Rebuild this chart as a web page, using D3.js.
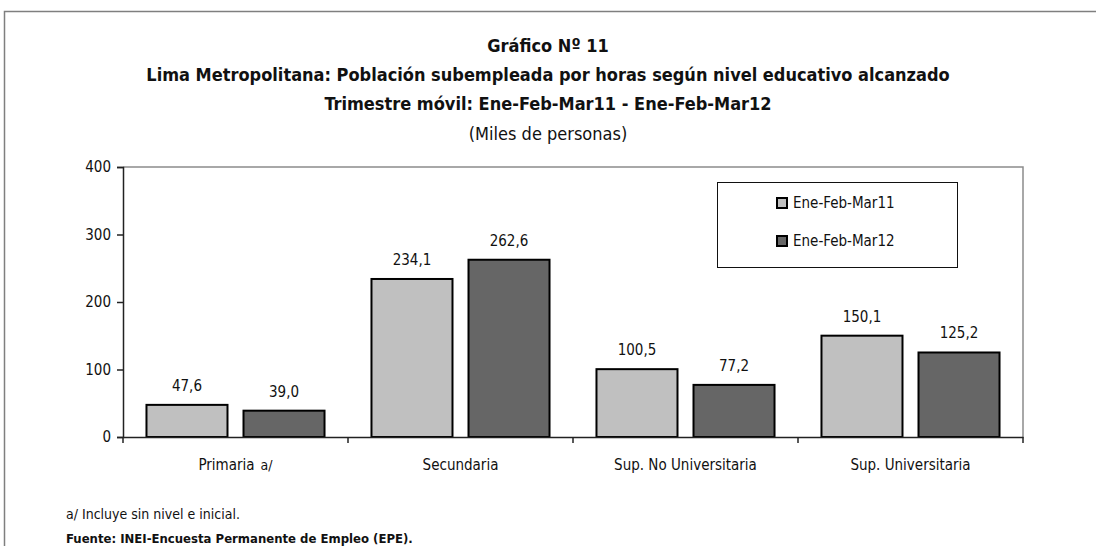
<!DOCTYPE html>
<html><head><meta charset="utf-8">
<script src="https://cdn.jsdelivr.net/npm/d3@7"></script>
<style>
body{margin:0;background:#fff;}
text{font-family:"Liberation Sans Narrow","Arial Narrow","DejaVu Sans Condensed",sans-serif;font-stretch:condensed;fill:#111;}
</style></head>
<body><svg id="c" width="1096" height="546"></svg>
<script>
const categories = ["Primaria", "Secundaria", "Sup. No Universitaria", "Sup. Universitaria"];
const seriesNames = ["Ene-Feb-Mar11", "Ene-Feb-Mar12"];
const values2011 = [47.6, 234.1, 100.5, 150.1];
const values2012 = [39.0, 262.6, 77.2, 125.2];
const yTicks = [0, 100, 200, 300, 400];
const titles = ["Gráfico Nº 11",
  "Lima Metropolitana: Población subempleada por horas según nivel educativo alcanzado",
  "Trimestre móvil: Ene-Feb-Mar11 - Ene-Feb-Mar12"];
const subtitle = "(Miles de personas)";
const note = "a/ Incluye sin nivel e inicial.";
const source = "Fuente: INEI-Encuesta Permanente de Empleo (EPE).";
const colors = ["#c0c0c0", "#666666"];

const svg = d3.select("#c");
// outer frame
svg.append("rect").attr("x",4.5).attr("y",11.5).attr("width",1200).attr("height",600)
  .attr("fill","none").attr("stroke","#7f7f7f").attr("stroke-width",1.5);

const L=123, R=1023, T=167, B=437;
const x = d3.scaleBand().domain(categories).range([L,R]).paddingInner(0).paddingOuter(0);
const xs = d3.scaleBand().domain(seriesNames).range([0,x.bandwidth()]).paddingInner(0.165).paddingOuter(0.242);
const y = d3.scaleLinear().domain([0,400]).range([B,T]);

// plot area border (top/right)
svg.append("path").attr("d",`M${L},${T}H${R}V${B}`).attr("fill","none").attr("stroke","#8c8c8c").attr("stroke-width",1.5);

// titles
const tY=[52,81,110];
titles.forEach((t,i)=>svg.append("text").attr("x",548).attr("y",tY[i]).attr("text-anchor","middle")
  .attr("font-size",18).attr("font-weight","bold").text(t));
svg.append("text").attr("x",548).attr("y",140).attr("text-anchor","middle").attr("font-size",18).text(subtitle);

// bars
const data = categories.map((c,i)=>({c, vals:[values2011[i], values2012[i]]}));
const g = svg.append("g");
data.forEach(d=>{
  d.vals.forEach((v,j)=>{
    const bx = x(d.c)+xs(seriesNames[j]);
    g.append("rect").attr("x",bx).attr("y",y(v)).attr("width",xs.bandwidth()).attr("height",y(0)-y(v))
      .attr("fill",colors[j]).attr("stroke","#000").attr("stroke-width",2);
    g.append("text").attr("x",bx+xs.bandwidth()/2).attr("y",y(v)-14).attr("text-anchor","middle")
      .attr("font-size",15).text(d3.format(".1f")(v).replace(".",","));
  });
});

// y axis
const ya = svg.append("g").attr("transform",`translate(${L},0)`)
  .call(d3.axisLeft(y).tickValues(yTicks).tickSize(6).tickPadding(6).tickFormat(d3.format("d")));
ya.select(".domain").attr("stroke","#222").attr("stroke-width",1.5);
ya.selectAll(".tick line").attr("stroke","#222").attr("stroke-width",1.5);
ya.selectAll(".tick text").attr("font-size",15).attr("fill","#111");

// x axis
const xa = svg.append("g").attr("transform",`translate(0,${B})`)
  .call(d3.axisBottom(x).tickSize(0).tickPadding(20).tickFormat(()=>""));
xa.select(".domain").attr("stroke","#222").attr("stroke-width",1.5);
// boundary ticks
const bounds = categories.map(c=>x(c)).concat([R]);
xa.selectAll("line.b").data(bounds).enter().append("line").attr("class","b")
  .attr("x1",d=>d).attr("x2",d=>d).attr("y1",0).attr("y2",6).attr("stroke","#222").attr("stroke-width",1.5);
categories.forEach((c,i)=>{
  const t = xa.append("text").attr("x",x(c)+x.bandwidth()/2).attr("y",33).attr("text-anchor","middle")
    .attr("font-size",15).attr("fill","#111");
  t.append("tspan").text(c);
  if(i===0){ t.append("tspan").attr("font-size",14).attr("dx",6).text("a/"); }
});

// legend
const lg = svg.append("g");
lg.append("rect").attr("x",717.5).attr("y",182.5).attr("width",240).attr("height",85)
  .attr("fill","#fff").attr("stroke","#111").attr("stroke-width",1);
seriesNames.forEach((s,i)=>{
  const cy = 203 + i*38;
  lg.append("rect").attr("x",777).attr("y",cy-5).attr("width",10).attr("height",10)
    .attr("fill",colors[i]).attr("stroke","#000").attr("stroke-width",2);
  lg.append("text").attr("x",793).attr("y",cy+5).attr("font-size",15).text(s);
});

// footnotes
svg.append("text").attr("x",66).attr("y",519).attr("font-size",14).text(note);
svg.append("text").attr("x",66).attr("y",543).attr("font-size",13).attr("font-weight","bold").text(source);
</script></body></html>
